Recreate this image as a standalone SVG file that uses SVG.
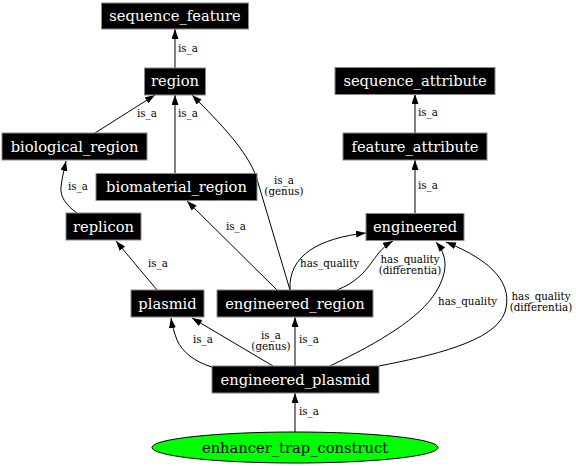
<svg xmlns="http://www.w3.org/2000/svg" width="576" height="466" viewBox="0 0 576 466">
<style>
.box{fill:#000;stroke:#888;stroke-width:1}
.nt{fill:#fff;font-family:"DejaVu Serif",serif;font-size:14.7px;text-anchor:middle}
.et{fill:#000;font-family:"DejaVu Serif",serif;font-size:10.3px}
.c{text-anchor:middle}
.e{fill:none;stroke:#000;stroke-width:1;marker-end:url(#ah)}
</style>
<defs>
<marker id="ah" markerUnits="userSpaceOnUse" markerWidth="10" markerHeight="8" refX="10" refY="3.5" orient="auto">
<path d="M0,0 L10,3.5 L0,7 z" fill="#000"/>
</marker>
</defs>
<rect width="576" height="466" fill="#fff"/>
<g id="connectors">
<path class="e" d="M175,68 L175,29"/>
<path class="e" d="M95,133 L155,95"/>
<path class="e" d="M175,173 L175,95"/>
<path class="e" d="M290,290 L256,176 C246,150 222,125 192,95"/>
<path class="e" d="M77,213 C66,205 60,197 61,187 C62,178 64,170 66,161"/>
<path class="e" d="M157,290 L116,241"/>
<path class="e" d="M277,290 L187,201"/>
<path class="e" d="M290,290 C288,255 320,238 366,233"/>
<path class="e" d="M337,290 C355,283 365,272 372,262 C379,252 384,246 393,241"/>
<path class="e" d="M415,213 L415,160"/>
<path class="e" d="M415,133 L415,94"/>
<path class="e" d="M212,367 C195,362 182,352 177,340 C174,332 172,325 171,318"/>
<path class="e" d="M273,366 L192,318"/>
<path class="e" d="M295,366 L295,317"/>
<path class="e" d="M330,366 C380,342 420,318 436,292 C449,270 447,255 436,242"/>
<path class="e" d="M379,366 C430,356 495,342 505,312 C513,285 495,262 446,242"/>
<path class="e" d="M295,432 L295,393"/>
<text class="et" x="178" y="52">is_a</text>
<text class="et" x="137" y="117">is_a</text>
<text class="et" x="178" y="117">is_a</text>
<text class="et c" x="284" y="184">is_a</text>
<text class="et c" x="284" y="195">(genus)</text>
<text class="et" x="68" y="190">is_a</text>
<text class="et" x="226" y="230">is_a</text>
<text class="et" x="148" y="267">is_a</text>
<text class="et" x="300" y="267">has_quality</text>
<text class="et c" x="410" y="263">has_quality</text>
<text class="et c" x="410" y="274">(differentia)</text>
<text class="et" x="418" y="116">is_a</text>
<text class="et" x="418" y="189">is_a</text>
<text class="et" x="193" y="343">is_a</text>
<text class="et c" x="271" y="339">is_a</text>
<text class="et c" x="271" y="350">(genus)</text>
<text class="et" x="299" y="343">is_a</text>
<text class="et" x="438" y="305">has_quality</text>
<text class="et c" x="541" y="300">has_quality</text>
<text class="et c" x="541" y="311">(differentia)</text>
<text class="et" x="299" y="415">is_a</text>
</g>
<g id="sequence_feature"><rect class="box" x="101.5" y="3" width="147" height="26"/><text class="nt" x="175" y="21">sequence_feature</text></g>
<g id="region"><rect class="box" x="144.5" y="68" width="61" height="27"/><text class="nt" x="175" y="86">region</text></g>
<g id="biological_region"><rect class="box" x="2" y="133" width="145" height="27"/><text class="nt" x="74.5" y="151.5">biological_region</text></g>
<g id="biomaterial_region"><rect class="box" x="96" y="173.5" width="161" height="27"/><text class="nt" x="176.5" y="192">biomaterial_region</text></g>
<g id="replicon"><rect class="box" x="66" y="213" width="75" height="27"/><text class="nt" x="103.5" y="231.5">replicon</text></g>
<g id="sequence_attribute"><rect class="box" x="335" y="67.5" width="160" height="27"/><text class="nt" x="415" y="86">sequence_attribute</text></g>
<g id="feature_attribute"><rect class="box" x="343" y="133" width="144" height="27"/><text class="nt" x="415" y="151.5">feature_attribute</text></g>
<g id="engineered"><rect class="box" x="366" y="213.5" width="98" height="27"/><text class="nt" x="415" y="232">engineered</text></g>
<g id="plasmid"><rect class="box" x="131" y="290" width="73" height="27"/><text class="nt" x="167.5" y="308.5">plasmid</text></g>
<g id="engineered_region"><rect class="box" x="217" y="290" width="156" height="27"/><text class="nt" x="295" y="308.5">engineered_region</text></g>
<g id="engineered_plasmid"><rect class="box" x="212" y="366" width="167" height="27"/><text class="nt" x="295.5" y="384.5">engineered_plasmid</text></g>
<g id="enhancer_trap_construct"><ellipse cx="295" cy="447.5" rx="143" ry="15.5" fill="#00ff00" stroke="#000"/><text class="nt" x="295" y="452.5" style="fill:#000">enhancer_trap_construct</text></g>
</svg>
